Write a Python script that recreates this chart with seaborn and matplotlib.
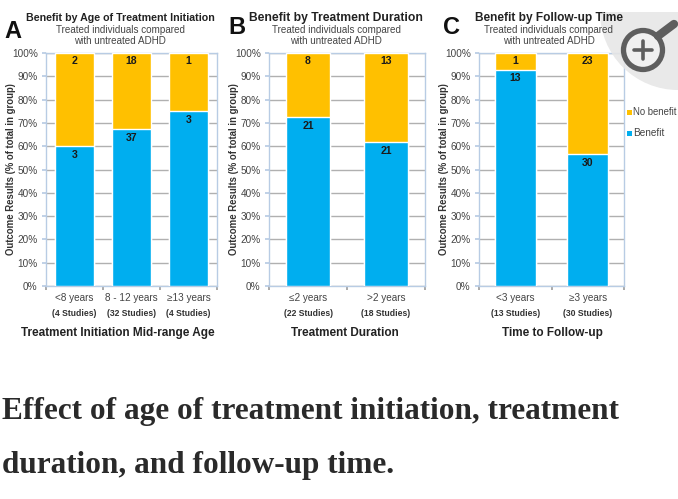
import matplotlib
matplotlib.use("Agg")
import matplotlib.pyplot as plt
from matplotlib.patches import Circle, Rectangle
import pandas as pd
import seaborn as sns

W, H = 678, 499
BLUE, GOLD = "#00AEEF", "#FFC000"

groups_a = ["<8 years", "8 - 12 years", "≥13 years"]
studies_a = ["(4 Studies)", "(32 Studies)", "(4 Studies)"]
benefit_pct_a = [60, 67.3, 75]
benefit_n_a = [3, 37, 3]
nobenefit_n_a = [2, 18, 1]

groups_b = ["≤2 years", ">2 years"]
studies_b = ["(22 Studies)", "(18 Studies)"]
benefit_pct_b = [72.4, 61.8]
benefit_n_b = [21, 21]
nobenefit_n_b = [8, 13]

groups_c = ["<3 years", "≥3 years"]
studies_c = ["(13 Studies)", "(30 Studies)"]
benefit_pct_c = [92.9, 56.6]
benefit_n_c = [13, 30]
nobenefit_n_c = [1, 23]

sns.set_theme(style="white")
plt.rcParams["font.family"] = ["Liberation Sans", "DejaVu Sans"]

fig = plt.figure(figsize=(W / 100, H / 100), dpi=100, facecolor="white")


def panel(box, letter, lx, ly, title, tx, tsize, groups, studies, pct, nb, nn, xlabel, xl_x, bar_width):
    x0, y0, x1, y1 = box
    ax = fig.add_axes([x0 / W, 1 - y1 / H, (x1 - x0) / W, (y1 - y0) / H])
    df = pd.DataFrame({"g": groups, "pct": pct, "full": [100] * len(groups)})
    sns.barplot(data=df, x="g", y="full", color=GOLD, saturation=1, width=bar_width, ax=ax, zorder=3)
    sns.barplot(data=df, x="g", y="pct", color=BLUE, saturation=1, width=bar_width, ax=ax, zorder=3)
    ax.set_ylim(0, 100)
    ax.set_xlim(-0.5, len(groups) - 0.5)
    ax.set_yticks(range(0, 101, 10))
    ax.set_yticklabels([f"{v}%" for v in range(0, 101, 10)], fontsize=7.2, color="#444444")
    ax.yaxis.grid(True, color="#b0b0b0", lw=1)
    ax.set_axisbelow(True)
    ax.tick_params(axis="y", length=3, pad=3, color="#b8cce4", left=True)
    ax.set_xticks([i - 0.5 for i in range(len(groups) + 1)])
    ax.set_xticklabels([])
    ax.tick_params(axis="x", length=3, color="#a0a0a0", bottom=True)
    ax.set_xlabel("")
    ax.set_ylabel("Outcome Results (% of total in group)", fontsize=6.9, fontweight="bold",
                  color="#333333", labelpad=-3)
    for s in ax.spines.values():
        s.set_color("#b8cce4")
        s.set_linewidth(1)
    for i in range(len(groups)):
        ax.text(i, pct[i] - 1.5, str(nb[i]), ha="center", va="top", fontsize=7.6, fontweight="bold",
                color="#1a1a1a", zorder=5)
        ax.text(i, 96.6, str(nn[i]), ha="center", va="center", fontsize=7.6, fontweight="bold",
                color="#1a1a1a", zorder=5)
        xc = x0 + (i + 0.5) * (x1 - x0) / len(groups)
        fig.text(xc / W, 1 - 298 / H, groups[i], ha="center", va="center", fontsize=7.2, color="#444444")
        fig.text(xc / W, 1 - 314 / H, studies[i], ha="center", va="center", fontsize=6.2,
                 color="#333333", fontweight="bold")
    fig.text(xl_x / W, 1 - 333 / H, xlabel, ha="center", va="center", fontsize=8.5,
             fontweight="bold", color="#222222")
    fig.text(lx / W, 1 - ly / H, letter, ha="center", va="center", fontsize=17, fontweight="bold", color="#111111")
    fig.text(tx / W, 1 - 18 / H, title, ha="center", va="center", fontsize=tsize, fontweight="bold", color="#222222")
    fig.text(tx / W, 1 - 30 / H, "Treated individuals compared", ha="center", va="center", fontsize=7.1, color="#444444")
    fig.text(tx / W, 1 - 41 / H, "with untreated ADHD", ha="center", va="center", fontsize=7.1, color="#444444")
    return ax


panel((46, 53, 217, 286), "A", 13, 31, "Benefit by Age of Treatment Initiation", 120, 7.7,
      groups_a, studies_a, benefit_pct_a, benefit_n_a, nobenefit_n_a,
      "Treatment Initiation Mid-range Age", 118, 0.70)
panel((269, 53, 425, 286), "B", 237, 28, "Benefit by Treatment Duration", 336, 8.7,
      groups_b, studies_b, benefit_pct_b, benefit_n_b, nobenefit_n_b,
      "Treatment Duration", 345, 0.56)
panel((479, 53, 624, 286), "C", 452, 27, "Benefit by Follow-up Time", 549, 8.6,
      groups_c, studies_c, benefit_pct_c, benefit_n_c, nobenefit_n_c,
      "Time to Follow-up", 552, 0.56)

# legend
overlay = fig.add_axes([0, 0, 1, 1], facecolor="none")
overlay.set_xlim(0, W)
overlay.set_ylim(H, 0)
overlay.axis("off")
for y, col, lab, size in [(112, GOLD, "No benefit", 6.9), (133, BLUE, "Benefit", 7.2)]:
    overlay.add_patch(Rectangle((627, y - 2.5), 5, 5, color=col, lw=0))
    overlay.text(633, y, lab, fontsize=size, color="#444444", va="center")

# zoom badge from the page
badge = Circle((678, 12), 78, facecolor="#e6e6e6", edgecolor="none", alpha=0.88)
overlay.add_patch(badge)
badge.set_clip_path(Rectangle((590, 12), 88, 90, transform=overlay.transData))
overlay.add_patch(Circle((643, 50), 19.5, facecolor="#f0f0f0", edgecolor="#5e5e5e", lw=3.8))
overlay.plot([658, 674], [36, 24], color="#5e5e5e", lw=6, solid_capstyle="round")
overlay.plot([634, 652], [50, 50], color="#5e5e5e", lw=2.6)
overlay.plot([643, 643], [41, 59], color="#5e5e5e", lw=2.6)

caption_font = ["Liberation Serif", "DejaVu Serif"]
overlay.text(2, 412, "Effect of age of treatment initiation, treatment", fontsize=22.5,
             fontweight="bold", family=caption_font, color="#2a2a2a", va="center")
overlay.text(2, 466, "duration, and follow-up time.", fontsize=22.5,
             fontweight="bold", family=caption_font, color="#2a2a2a", va="center")

fig.savefig("out.png", dpi=100)
